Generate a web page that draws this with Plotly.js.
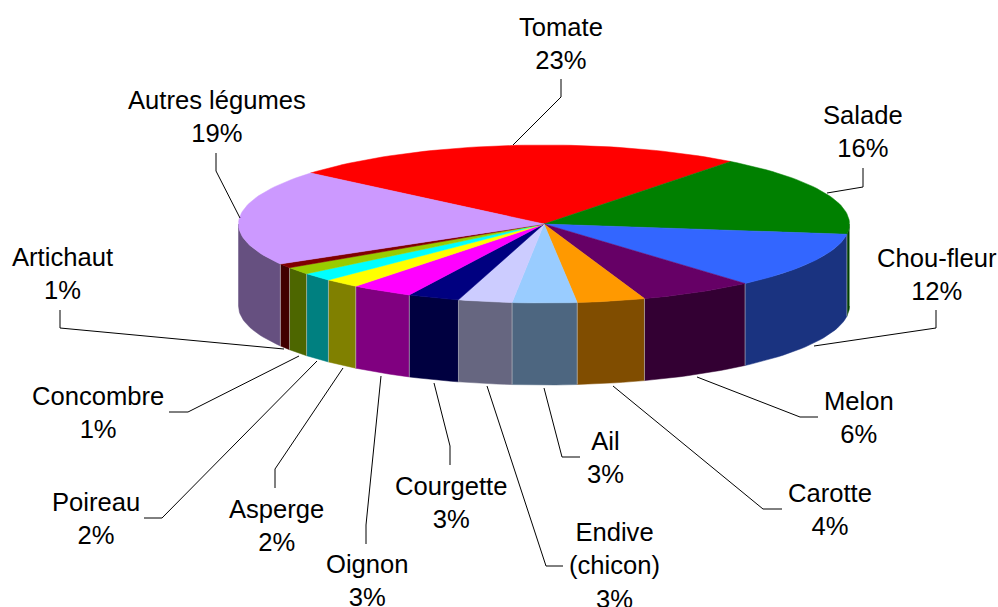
<!DOCTYPE html>
<html>
<head>
<meta charset="utf-8">
<script src="https://cdn.plot.ly/plotly-3.0.1.min.js"></script>
<style>html,body{margin:0;padding:0;background:#fff;overflow:hidden}#chart{width:998px;height:607px}</style>
</head>
<body>
<div id="chart"></div>
<script>
// Data, clockwise from the Tomate slice
var categories = ["Tomate","Salade","Chou-fleur","Melon","Carotte","Ail","Endive<br>(chicon)","Courgette","Oignon","Asperge","Poireau","Concombre","Artichaut","Autres légumes"];
var sliceValues = [24.3,16.6,11.5,6.1,3.6,3.4,2.85,2.75,3.3,1.9,1.7,1.5,0.9,19.6];
var percentLabels = ["23%","16%","12%","6%","4%","3%","3%","3%","3%","2%","2%","1%","1%","19%"];

// Styles
var topColors = ["#ff0000","#008000","#3366ff","#660066","#ff9900","#99ccff","#ccccff","#000080","#ff00ff","#ffff00","#00ffff","#99cc00","#800000","#cc99ff"];
var sideColors = ["#800000","#004000","#1a3380","#330033","#804d00","#4d6680","#666680","#000040","#800080","#808000","#008080","#4d6600","#400000","#665080"];

// Pie geometry
var cx = 544, cy = 224, rx = 305.5, ry = 79, depth = 82, startAngle = -49.8;

// Label and leader layout
var labelX = [561,863,937,859,830,605,614,451,367,276,96,98,62,217];
var labelY = [43,131,274,417,509,457,565,502,580,525,518,412,273,116];
var leaderX = [[561,561,513],[863,863,827],[936,936,814],[818,800,697],[782,763,613],[580,562,544],[563,546,487],[450,450,434],[366,366,381],[275,275,343],[144,162,317],[169,188,299],[60,60,284],[216,216,240]];
var leaderY = [[79,97,145],[168,187,193],[310,328,346],[417,417,377],[509,509,386],[457,457,388],[566,566,386],[465,446,383],[544,525,376],[488,469,368],[518,518,361],[412,412,356],[310,328,349],[153,171,218]];

function px(t){ return cx + rx*Math.sin(t*Math.PI/180); }
function py(t){ return cy - ry*Math.cos(t*Math.PI/180); }

var total = sliceValues.reduce(function(a,b){return a+b;},0);
var bounds = [startAngle];
sliceValues.forEach(function(v,i){ bounds.push(bounds[i] + v/total*360); });

function arc(a,b){
  var ts = [], n = Math.max(2, Math.ceil(Math.abs(b-a)/1.5));
  for (var i=0;i<=n;i++) ts.push(a+(b-a)*i/n);
  return ts;
}

var traces = [];
// Visible outer wall: the front half of the rim only
sliceValues.forEach(function(v,i){
  var a = Math.max(bounds[i],90), b = Math.min(bounds[i+1],270);
  if (b <= a) return;
  var ts = arc(a,b), xs = ts.map(px), ys = ts.map(py);
  var rev = ts.slice().reverse();
  traces.push({type:"scatter",mode:"lines",fill:"toself",fillcolor:sideColors[i],hoverinfo:"skip",
    line:{color:sideColors[i],width:0.5},
    x:xs.concat(rev.map(px)),
    y:ys.concat(rev.map(function(t){return py(t)+depth;}))});
});
// Light seams between wall segments
var seamX = [], seamY = [];
bounds.forEach(function(t){
  var m = ((t%360)+360)%360;
  if (m>90 && m<270){ seamX.push(px(m),px(m),null); seamY.push(py(m),py(m)+depth,null); }
});
traces.push({type:"scatter",mode:"lines",x:seamX,y:seamY,hoverinfo:"skip",line:{color:"rgba(205,205,205,0.55)",width:1}});
// Top face wedges
sliceValues.forEach(function(v,i){
  var ts = arc(bounds[i],bounds[i+1]);
  traces.push({type:"scatter",mode:"lines",fill:"toself",fillcolor:topColors[i],hoverinfo:"skip",
    line:{color:topColors[i],width:0.5},
    x:[cx].concat(ts.map(px),[cx]),
    y:[cy].concat(ts.map(py),[cy])});
});
// Leader lines
categories.forEach(function(c,i){
  traces.push({type:"scatter",mode:"lines",x:leaderX[i],y:leaderY[i],hoverinfo:"skip",line:{color:"#000",width:1}});
});

var annotations = categories.map(function(c,i){
  return {x:labelX[i],y:labelY[i],xref:"x",yref:"y",showarrow:false,xanchor:"center",yanchor:"middle",
    text:c+"<br>"+percentLabels[i],align:"center",
    font:{family:"Liberation Sans, Arial, sans-serif",size:25.6,color:"#000"}};
});

Plotly.newPlot("chart",traces,{
  width:998,height:607,showlegend:false,
  paper_bgcolor:"#fff",plot_bgcolor:"#fff",
  margin:{l:0,r:0,t:0,b:0},
  xaxis:{range:[0,998],visible:false,fixedrange:true},
  yaxis:{range:[607,0],visible:false,fixedrange:true},
  annotations:annotations
},{staticPlot:true,displayModeBar:false});
</script>
</body>
</html>
